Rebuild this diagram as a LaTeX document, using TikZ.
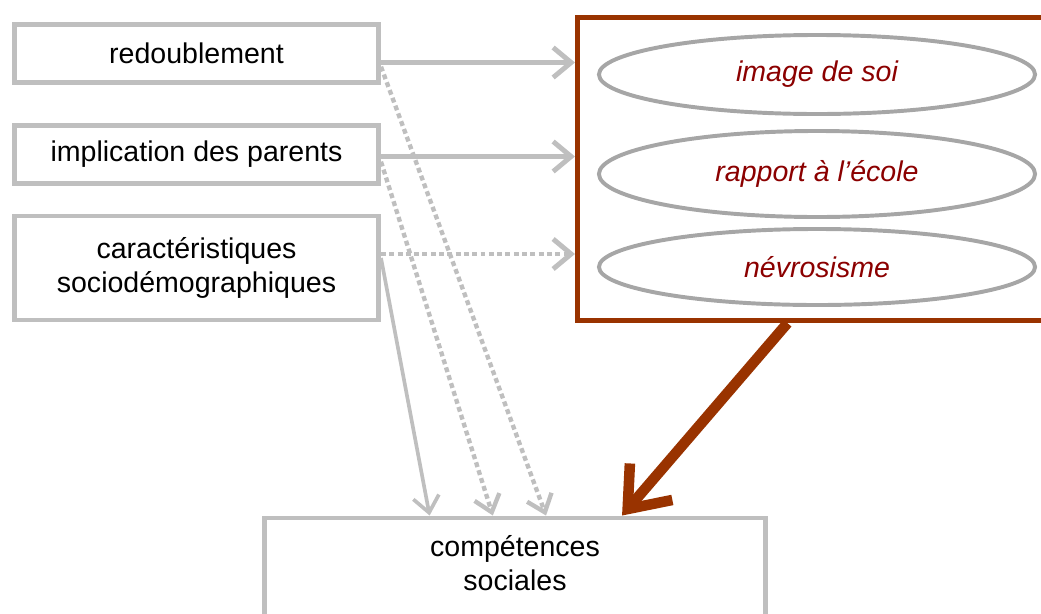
\documentclass[tikz,border=0pt]{standalone}
\usepackage{fontspec}
\setmainfont{Liberation Sans}
\usetikzlibrary{arrows.meta,shapes.geometric}

\definecolor{boxgray}{RGB}{191,191,191}
\definecolor{ellgray}{RGB}{166,166,166}
\definecolor{medred}{RGB}{153,51,0}
\definecolor{textred}{RGB}{139,0,0}

\newcommand{\diagfont}{\fontsize{20.3}{24.2}\selectfont}

\tikzset{
    factor/.style={draw=boxgray, line width=3.5pt, minimum width=9.1cm, align=center, inner sep=0pt},
    mediator/.style={ellipse, draw=ellgray, line width=2.8pt, minimum width=10.9cm, inner sep=0pt, text=textred, font=\diagfont\itshape},
    link/.style={draw=boxgray, line width=3.5pt, -{Straight Barb[length=0.45cm, width=0.75cm]}},
    thinlink/.style={draw=boxgray, line width=2.6pt, -{Straight Barb[length=0.4cm, width=0.65cm]}},
    dotlink/.style={thinlink, line width=3.1pt, dash pattern=on 3.5pt off 2.4pt},
}

\begin{document}
\begin{tikzpicture}[x=0.025cm, y=-0.025cm, font=\diagfont]
        \useasboundingbox (0,0) rectangle (1041,613);

        % factors on the left
        \node[factor, minimum height=1.45cm] (redou) at (196.5,53.5) {redoublement};
        \node[factor, minimum height=1.45cm] (parents) at (196.5,154.5) {implication des parents};
        \node[factor, minimum height=2.6cm] (socio) at (196.5,268) {caractéristiques\\sociodémographiques};

        % mediators
        \node[draw=medred, line width=3.5pt, minimum width=12cm, minimum height=7.58cm] (med) at (817.5,169) {};
        \node[mediator, minimum height=1.975cm] (soi) at (817,74.5) {image de soi};
        \node[mediator, minimum height=2.15cm] (ecole) at (817,174) {rapport à l’école};
        \node[mediator, minimum height=1.9cm] (nevro) at (817,267) {névrosisme};

        % outcome
        \node[factor, minimum width=12.525cm, minimum height=2.75cm, text depth=0.5cm] (comp) at (515,573) {compétences\\sociales};

        % to mediators
        \draw[link] ([yshift=-0.225cm]redou.east) -- ([yshift=-0.225cm]redou.east -| med.west);
        \draw[link] ([yshift=-0.05cm]parents.east) -- ([yshift=-0.05cm]parents.east -| med.west);
        \draw[link, dash pattern=on 3.5pt off 2.4pt] ([yshift=0.35cm]socio.east) -- ([yshift=0.35cm]socio.east -| med.west);

        % to outcome
        \draw[dotlink] ([yshift=-0.33cm]redou.east) -- ([xshift=7.1cm]comp.north west);
        \draw[dotlink] ([yshift=-0.18cm]parents.east) -- ([xshift=5.77cm]comp.north west);
        \draw[thinlink] ([yshift=0.25cm]socio.east) -- ([xshift=4.19cm]comp.north west);
        \draw[medred, line width=7.5pt, -{Straight Barb[length=0.9cm, width=1.4cm]}] ([xshift=5.31cm]med.south west) -- ([xshift=9.0cm]comp.north west);
    \end{tikzpicture}
\end{document}
